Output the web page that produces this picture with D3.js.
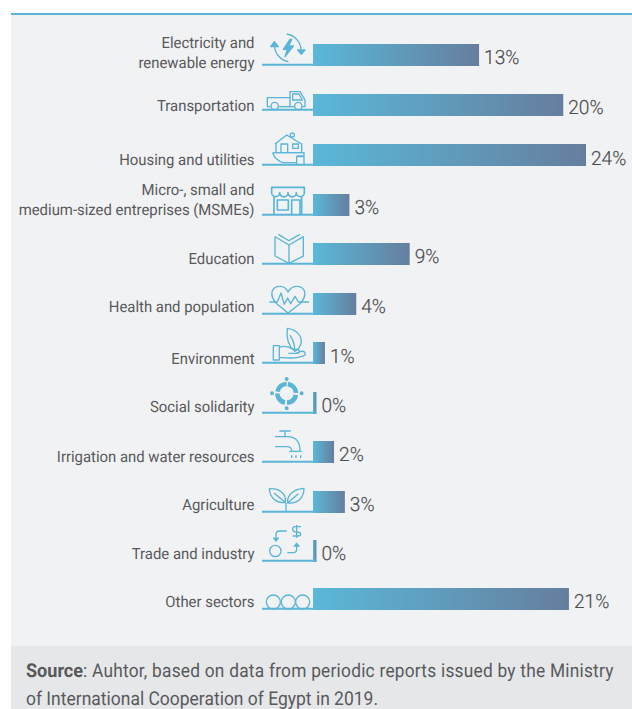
<!DOCTYPE html>
<html><head><meta charset="utf-8">
<script src="https://cdn.jsdelivr.net/npm/d3@7"></script>
<style>html,body{margin:0;padding:0;background:#fff}svg{display:block}text{font-family:Roboto,sans-serif;text-rendering:geometricPrecision}</style>
</head><body><svg id="c" width="632" height="709"></svg>
<script>
const categories=[["Electricity and","renewable energy"],["Transportation"],["Housing and utilities"],["Micro-, small and","medium-sized entreprises (MSMEs)"],["Education"],["Health and population"],["Environment"],["Social solidarity"],["Irrigation and water resources"],["Agriculture"],["Trade and industry"],["Other sectors"]];
const barValues=[14.6,22,24,3.2,8.5,3.8,1.05,0.3,1.85,2.8,0.3,22.5];
const valueLabels=["13%","20%","24%","3%","9%","4%","1%","0%","2%","3%","0%","21%"];
const sourceRuns=["Source",": Auhtor, based on data from periodic reports issued by the Ministry","of International Cooperation of Egypt in 2019."];
const sourceWeight=[700,400,400];
// layout tweaks (label baseline below the bar top; source text boxes: x, baseline, fitted width, tracking)
const labelDrop=[24,17,21,21,21,19,22,20,21,19,19,19];
const valueDrop=[20,20,21,20,20,20,21,20,20,20,20,20];
const sourceBox=[[26,676.5,57,0],[83,676.5,514,0.27],[26,705,352,0]];
const BLUE="#5ab5d6",TXT="#58595b";
const svg=d3.select("#c");
const defs=svg.append("defs");
const g=defs.append("linearGradient").attr("id","bar");
g.append("stop").attr("offset",0).attr("stop-color","#5ab8d9");
g.append("stop").attr("offset",1).attr("stop-color","#667e9e");

svg.append("rect").attr("x",11).attr("y",13).attr("width",621).attr("height",633).attr("fill","#f1f2f4");
svg.append("rect").attr("x",11).attr("y",13).attr("width",621).attr("height",2).attr("fill",BLUE);
svg.append("rect").attr("x",11).attr("y",646).attr("width",621).attr("height",63).attr("fill","#e6e7e9");

const x=d3.scaleLinear().domain([0,24]).range([313,586]);
const y=d3.scaleLinear().domain([0,3,10,11]).range([44,194,540,588]);
const barH=22;

// icons: [base y in drawing units, list of shapes]; units are 1/3 px
const S=(d,o={})=>({d,...o});
const icons=[
 {b:194,s:[S("M860 102A50 50 0 0 1 903 150"),S("M893 150H915L904 163Z",{fill:1}),S("M865 185A50 50 0 0 1 824 140"),S("M812 140H835L823 125Z",{fill:1}),S("M870 118L850 148H862L855 170L880 138H866L875 118Z",{fill:1})]},
 {b:329,s:[S("M812 320H802V293H870V320H884"),S("M906 320H915V300L900 275H870V293"),S("M878 282H897L907 300H878Z"),S("M813 318a11 11 0 1 0 22 0a11 11 0 1 0 -22 0"),S("M884 318a11 11 0 1 0 22 0a11 11 0 1 0 -22 0"),S("M835 320H870")]},
 {b:494,s:[S("M825 432L860 405L905 432"),S("M828 430V458H905V430"),S("M843 458V432H863V458"),S("M878 432H895V445H878Z"),S("M871 405a6 6 0 1 0 12 0a6 6 0 1 0 -12 0"),S("M818 458H912V468H890M818 458C822 472 835 485 850 488H888"),S("M890 470H912V494H890Z")]},
 {b:644,s:[S("M815 562H913V578A12 12 0 0 1 889 578A12 12 0 0 1 864 578A12 12 0 0 1 839 578A12 12 0 0 1 815 578Z"),S("M822 590V644M905 590V644"),S("M832 600H865V630H832Z"),S("M875 644V600H900V644")],w:5},
 {b:101,s:[S("M825 20L867 45L910 20V78L867 100L825 78Z"),S("M867 45V100"),S("M835 13L867 32L900 13")]},
 {b:252,s:[S("M830 222C805 195 815 170 840 170C852 170 860 178 864 187C870 177 880 170 890 170C915 170 925 195 900 222L864 250Z"),S("M808 217H832L843 190L853 224L863 205L872 222L885 200L895 217H927")]},
 {b:398,s:[S("M820 347H838V390H820Z"),S("M838 352C855 345 870 352 880 358H893C900 358 900 370 890 370H865M838 383C860 380 880 392 915 375C918 368 912 362 903 364L888 370"),S("M862 295C885 298 908 315 903 340C900 352 892 360 884 364C868 350 858 325 862 295ZM870 315C880 330 885 345 884 364")]},
 {b:548,s:[S("M860 462a28 28 0 1 0 .01 0",{dash:"38 6",w:14}),S("M860 447v.01M860 535v.01M816 490v.01M905 490v.01",{w:12,cap:1})]},
 {b:695,s:[S("M838 603H872M855 603V620"),S("M825 620H866C890 622 900 640 900 662"),S("M825 650H860C870 650 875 656 875 662"),S("M868 664H905"),S("M875 676V684M888 676V684M902 676V684")]},
 {b:126,s:[S("M808 57C835 55 860 70 856 98C830 102 810 85 808 57ZM822 70L856 98"),S("M912 56C885 58 860 72 863 100C890 102 912 88 912 56ZM895 72L863 100"),S("M858 100V126")]},
 {b:272,s:[S("M809 243a17 17 0 1 0 34 0a17 17 0 1 0 -34 0"),S("M860 183H838Q828 183 828 195V208"),S("M820 203L828 213L836 203",{fill:1}),S("M862 248H880Q890 248 890 236V226"),S("M882 230L890 220L898 230",{fill:1}),S("M903 170H885Q878 170 878 178Q878 186 890 186Q902 186 902 192Q902 198 893 198H878M890 165V203")]},
 {b:416,s:[S("M799 396a21 21 0 1 0 42 0a21 21 0 1 0 -42 0"),S("M844 396a21 21 0 1 0 42 0a21 21 0 1 0 -42 0"),S("M887 396a21 21 0 1 0 42 0a21 21 0 1 0 -42 0")]}
];
const lineLift=i=>i===1?6.3:1.3;

const rows=svg.selectAll("g.row").data(categories.map((c,i)=>({c,i,v:barValues[i],l:valueLabels[i]}))).join("g").attr("class","row");
rows.append("rect").attr("x",x(0)).attr("y",d=>Math.round(y(d.i))).attr("width",d=>x(d.v)-x(0)).attr("height",barH).attr("fill","url(#bar)");
rows.append("line").attr("x1",262).attr("x2",d=>d.v<0.5?x(d.v):x(0)).attr("y1",d=>Math.round(y(d.i))+barH-lineLift(d.i)).attr("y2",d=>Math.round(y(d.i))+barH-lineLift(d.i)).attr("stroke",BLUE).attr("stroke-width",2);
rows.append("text").attr("transform",d=>`translate(${x(d.v)+5},${Math.round(y(d.i))+valueDrop[d.i]}) scale(.98,1)`).attr("font-size",19.5).attr("font-weight",300).attr("stroke","#4d4e50").attr("stroke-width",.2).attr("fill","#4d4e50").text(d=>d.l);
rows.each(function(d){
  const n=d3.select(this),base=Math.round(y(d.i))+labelDrop[d.i];
  d.c.forEach((t,k)=>n.append("text").attr("transform",`translate(254.5,${base-(d.c.length-1-k)*20}) scale(.96,1)`).attr("text-anchor","end").attr("font-size",15.5).attr("fill",TXT).text(t));
  const ic=icons[d.i],lineY=Math.round(y(d.i))+barH-lineLift(d.i);
  const gi=n.append("g").attr("transform",`translate(0,${lineY}) scale(${1/3}) translate(0,${-ic.b})`).attr("fill","none").attr("stroke",BLUE).attr("stroke-width",ic.w||4).attr("stroke-linejoin","round");
  ic.s.forEach(s=>{const p=gi.append("path").attr("d",s.d);
    if(s.fill)p.attr("fill",BLUE);
    if(s.dash)p.attr("stroke-dasharray",s.dash);
    if(s.w)p.attr("stroke-width",s.w);
    if(s.cap)p.attr("stroke-linecap","round");});
});

sourceRuns.forEach((s,i)=>{
  const [bx,by,bw,track]=sourceBox[i];
  const t=svg.append("text").attr("font-size",19).attr("fill",TXT).attr("font-weight",sourceWeight[i]).text(s);
  t.attr("transform",`translate(${bx},${by}) scale(${bw/t.node().getComputedTextLength()},1)`);
  if(track)t.attr("letter-spacing",track);
});
</script></body></html>
